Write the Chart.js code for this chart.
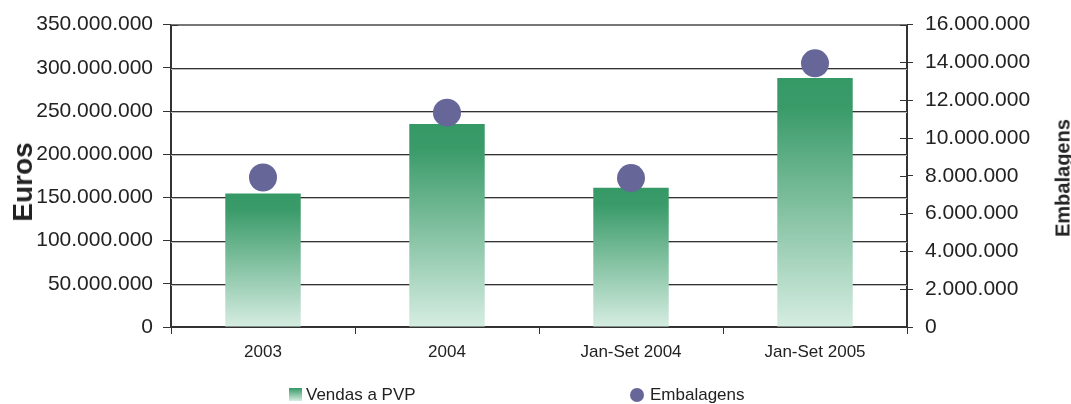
<!DOCTYPE html>
<html>
<head>
<meta charset="utf-8">
<script src="https://cdn.jsdelivr.net/npm/chart.js@4/dist/chart.umd.min.js"></script>
<style>
  html, body { margin: 0; padding: 0; background: #fff; }
  #wrap { position: relative; width: 1071px; height: 404px; overflow: hidden; font-family: "Liberation Sans", Arial, sans-serif; color: #222; }
  canvas { position: absolute; left: 0; top: 0; }
  .ytitle { position: absolute; font-weight: bold; white-space: nowrap; transform: translate(-50%, -50%) rotate(-90deg); }
  .leg { position: absolute; font-size: 17px; line-height: 17px; white-space: nowrap; }
  .box { position: absolute; width: 13px; height: 13px; background: linear-gradient(#359966, #d6ede2); }
  .dot { position: absolute; width: 14px; height: 14px; border-radius: 50%; background: #666699; }
</style>
</head>
<body>
<div id="wrap">
  <canvas id="c" width="1071" height="404"></canvas>
  <div class="ytitle" id="t1" style="left:23px; top:182px; font-size:28px;">Euros</div>
  <div class="ytitle" id="t2" style="left:1063px; top:178px; font-size:20px;">Embalagens</div>
  <div class="box" style="left:289px; top:388px;"></div>
  <div class="leg" style="left:306px; top:386px;">Vendas a PVP</div>
  <div class="dot" style="left:630px; top:388px;"></div>
  <div class="leg" style="left:650px; top:386px;">Embalagens</div>
</div>
<script>
const categories = ['2003', '2004', 'Jan-Set 2004', 'Jan-Set 2005'];
const vendasPVP = [154600000, 235000000, 161200000, 288100000];
const embalagens = [7910000, 11340000, 7880000, 13950000];
const leftTickLabels = ['0', '50.000.000', '100.000.000', '150.000.000', '200.000.000', '250.000.000', '300.000.000', '350.000.000'];
const rightTickLabels = ['0', '2.000.000', '4.000.000', '6.000.000', '8.000.000', '10.000.000', '12.000.000', '14.000.000', '16.000.000'];

const barGradient = (ctx) => {
  const chart = ctx.chart;
  const area = chart.chartArea;
  if (!area || ctx.raw === undefined) return '#359966';
  const top = chart.scales.y.getPixelForValue(ctx.raw);
  const g = chart.ctx.createLinearGradient(0, top, 0, area.bottom);
  g.addColorStop(0, '#359966');
  g.addColorStop(0.12, '#3a9b69');
  g.addColorStop(1, '#d6ede2');
  return g;
};

const gridAndTicks = {
  id: 'gridAndTicks',
  beforeDatasetsDraw(chart) {
    const c = chart.ctx;
    const a = chart.chartArea;
    const ys = chart.scales.y;
    c.save();
    ys.ticks.forEach(t => {
      const y = Math.round(ys.getPixelForValue(t.value));
      if (t.value === ys.max) {
        c.fillStyle = '#777';
        c.fillRect(a.left, y - 1, a.right - a.left, 2);
      } else if (t.value !== ys.min) {
        c.fillStyle = '#333';
        c.fillRect(a.left, y, a.right - a.left, 1);
        c.fillStyle = '#bbb';
        c.fillRect(a.left, y + 1, a.right - a.left, 1);
      }
    });
    c.restore();
  },
  afterDraw(chart) {
    const c = chart.ctx;
    const a = chart.chartArea;
    c.save();
    c.fillStyle = '#333';
    chart.scales.y.ticks.forEach(t => {
      const y = Math.round(chart.scales.y.getPixelForValue(t.value));
      c.fillRect(a.left, y, 7, 1);
    });
    chart.scales.y1.ticks.forEach(t => {
      const y = Math.round(chart.scales.y1.getPixelForValue(t.value));
      c.fillRect(a.right - 7, y, 7, 1);
    });
    c.restore();
  }
};

new Chart(document.getElementById('c'), {
  data: {
    labels: categories,
    datasets: [
      {
        type: 'line',
        label: 'Embalagens',
        data: embalagens,
        yAxisID: 'y1',
        showLine: false,
        pointRadius: 14,
        pointHoverRadius: 14,
        pointBackgroundColor: '#666699',
        pointBorderWidth: 0,
        borderColor: '#666699',
        order: 0
      },
      {
        type: 'bar',
        label: 'Vendas a PVP',
        data: vendasPVP,
        yAxisID: 'y',
        backgroundColor: barGradient,
        borderWidth: 0,
        categoryPercentage: 1,
        barPercentage: 0.41,
        order: 1
      }
    ]
  },
  options: {
    responsive: false,
    animation: false,
    events: [],
    layout: { padding: { top: 23, left: 0, right: 0, bottom: 0 } },
    plugins: { legend: { display: false }, tooltip: { enabled: false } },
    scales: {
      x: {
        offset: true,
        grid: { display: true, drawOnChartArea: false, offset: true, tickLength: 7, color: '#333' },
        border: { display: true, color: '#333', width: 2 },
        ticks: { font: { family: 'Liberation Sans', size: 17 }, color: '#222', padding: 8, maxRotation: 0 },
        afterFit(s) { s.height = 77; }
      },
      y: {
        position: 'left',
        min: 0, max: 350000000,
        ticks: {
          stepSize: 50000000,
          font: { family: 'Liberation Sans', size: 21 }, color: '#222', padding: 10,
          callback: (v, i) => leftTickLabels[i]
        },
        grid: { drawOnChartArea: false, tickLength: 8, color: '#333' },
        border: { display: true, color: '#333', width: 2 },
        afterFit(s) { s.width = 171; }
      },
      y1: {
        position: 'right',
        min: 0, max: 16000000,
        ticks: {
          stepSize: 2000000,
          font: { family: 'Liberation Sans', size: 21 }, color: '#222', padding: 12,
          callback: (v, i) => rightTickLabels[i]
        },
        grid: { drawOnChartArea: false, tickLength: 6, color: '#333' },
        border: { display: true, color: '#333', width: 2 },
        afterFit(s) { s.width = 164; }
      }
    }
  },
  plugins: [gridAndTicks]
});
</script>
</body>
</html>
